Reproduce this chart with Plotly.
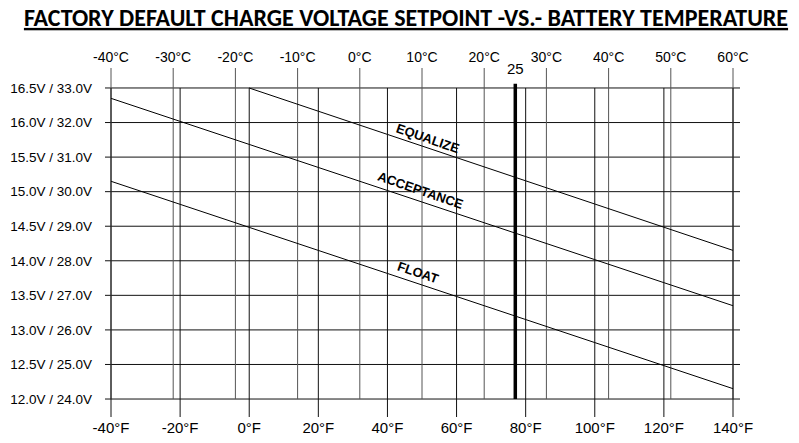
import plotly.graph_objects as go

# ---------------- data ----------------
celsius_ticks = [-40, -30, -20, -10, 0, 10, 20, 30, 40, 50, 60]
celsius_labels = ["-40°C", "-30°C", "-20°C", "-10°C", "0°C", "10°C", "20°C", "30°C", "40°C", "50°C", "60°C"]
fahrenheit_ticks = [-40, -20, 0, 20, 40, 60, 80, 100, 120, 140]
fahrenheit_labels = ["-40°F", "-20°F", "0°F", "20°F", "40°F", "60°F", "80°F", "100°F", "120°F", "140°F"]
volt_ticks = [12.0, 12.5, 13.0, 13.5, 14.0, 14.5, 15.0, 15.5, 16.0, 16.5]
volt_labels = ["12.0V / 24.0V", "12.5V / 25.0V", "13.0V / 26.0V", "13.5V / 27.0V", "14.0V / 28.0V",
               "14.5V / 29.0V", "15.0V / 30.0V", "15.5V / 31.0V", "16.0V / 32.0V", "16.5V / 33.0V"]

equalize_temp = [-17.8, 60]
equalize_volt = [16.5, 14.15]
acceptance_temp = [-40, 60]
acceptance_volt = [16.35, 13.35]
float_temp = [-40, 60]
float_volt = [15.15, 12.15]

reference_temp = 25  # °C marker

# ---------------- layout geometry ----------------
FIG_W, FIG_H = 799, 443
C_MIN, C_MAX = -40.965, 61.125          # °C range of plot area
F_MIN, F_MAX = C_MIN * 1.8 + 32, C_MAX * 1.8 + 32
V_MIN, V_MAX = 11.74, 16.789
V_REF_TOP = 16.56

SANS = "Liberation Sans, Arial, sans-serif"
LINE_COL = "#111111"


def seg_lines(values, a, b, vertical):
    xs, ys = [], []
    for v in values:
        if vertical:
            xs += [v, v, None]
            ys += [a, b, None]
        else:
            xs += [a, b, None]
            ys += [v, v, None]
    return xs, ys


fig = go.Figure()

# horizontal grid lines
hx, hy = seg_lines(volt_ticks, C_MIN, C_MAX, vertical=False)
fig.add_trace(go.Scatter(x=hx, y=hy, mode="lines", line=dict(color=LINE_COL, width=1),
                         hoverinfo="skip", showlegend=False))
# °C vertical lines (from top labels down to 12.0V)
cx, cy = seg_lines(celsius_ticks, V_MAX, volt_ticks[0], vertical=True)
fig.add_trace(go.Scatter(x=cx, y=cy, mode="lines", line=dict(color="#555555", width=1),
                         hoverinfo="skip", showlegend=False))
# °F vertical lines (from 16.5V down to bottom labels)
fx, fy = seg_lines(fahrenheit_ticks, volt_ticks[-1], V_MIN, vertical=True)
fig.add_trace(go.Scatter(x=fx, y=fy, mode="lines", line=dict(color=LINE_COL, width=1),
                         hoverinfo="skip", showlegend=False, xaxis="x2"))

# reference line 25°C
fig.add_trace(go.Scatter(x=[reference_temp, reference_temp], y=[V_REF_TOP, volt_ticks[0]], mode="lines",
                         line=dict(color="black", width=3.5), hoverinfo="skip", showlegend=False))

# voltage curves
for t, v, name in [(equalize_temp, equalize_volt, "EQUALIZE"),
                   (acceptance_temp, acceptance_volt, "ACCEPTANCE"),
                   (float_temp, float_volt, "FLOAT")]:
    fig.add_trace(go.Scatter(x=t, y=v, mode="lines", name=name,
                             line=dict(color="black", width=1), showlegend=False))

label_font = dict(family=SANS, size=13, color="black")
annotations = [
    dict(x=11.0, y=15.776, text="<b>EQUALIZE</b>", textangle=19),
    dict(x=9.85, y=15.024, text="<b>ACCEPTANCE</b>", textangle=19),
    dict(x=9.35, y=13.837, text="<b>FLOAT</b>", textangle=19),
]
for a in annotations:
    fig.add_annotation(xref="x", yref="y", showarrow=False, font=label_font,
                       xanchor="center", yanchor="middle", **a)

fig.add_annotation(x=reference_temp, y=16.775, xref="x", yref="y", text="25", showarrow=False,
                   font=dict(family=SANS, size=15, color="black"), xanchor="center", yanchor="middle")

fig.update_layout(
    width=FIG_W, height=FIG_H,
    margin=dict(l=105, r=59, t=68, b=26, autoexpand=False),
    paper_bgcolor="white", plot_bgcolor="white",
    title=dict(text="<b><u>FACTORY DEFAULT CHARGE VOLTAGE SETPOINT -VS.- BATTERY TEMPERATURE</u></b>",
               x=406 / FIG_W, xanchor="center", xref="container", y=1 - 17.5 / FIG_H, yanchor="middle",
               yref="container", automargin=False,
               font=dict(family="Carlito, Lato, sans-serif", size=24, color="black")),
    xaxis=dict(range=[C_MIN, C_MAX], side="top", tickvals=celsius_ticks, ticktext=celsius_labels,
               showgrid=False, zeroline=False, showline=False, ticks="", ticklabelstandoff=2,
               automargin=False, tickfont=dict(family=SANS, size=14, color="black")),
    xaxis2=dict(range=[F_MIN, F_MAX], overlaying="x", side="bottom", tickvals=fahrenheit_ticks,
                ticktext=fahrenheit_labels, showgrid=False, zeroline=False, showline=False, ticks="",
                ticklabelstandoff=0, automargin=False, tickfont=dict(family=SANS, size=15, color="black")),
    yaxis=dict(range=[V_MIN, V_MAX], tickvals=volt_ticks, ticktext=volt_labels, showgrid=False,
               zeroline=False, showline=False, ticks="", ticklabelstandoff=12, automargin=False,
               tickfont=dict(family=SANS, size=13.5, color="black")),
)

fig.write_html("out.html", config={"displayModeBar": False},
               post_script="document.body.style.margin='0';")
